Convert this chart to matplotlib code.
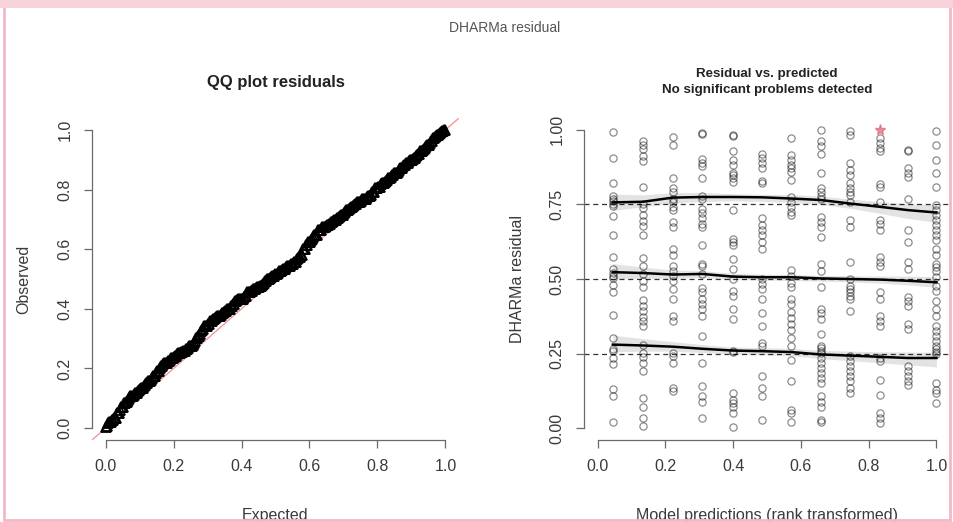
import numpy as np
import matplotlib
matplotlib.use("Agg")
import matplotlib.pyplot as plt
from matplotlib.patches import Rectangle

plt.rcParams['font.family'] = ['Liberation Sans', 'DejaVu Sans']

# Scaled residuals grouped by rank-transformed model prediction
pred_rank = [0.045, 0.134, 0.222, 0.309, 0.399, 0.485, 0.571, 0.658, 0.746, 0.834, 0.916, 1.0]

res_g01 = [0.993, 0.905, 0.823, 0.778, 0.770, 0.761, 0.753, 0.745, 0.712, 0.647, 0.574, 0.535,
           0.520, 0.511, 0.502, 0.480, 0.455, 0.378, 0.303, 0.266, 0.258, 0.236, 0.214, 0.131,
           0.108, 0.021]
res_g02 = [0.963, 0.950, 0.935, 0.913, 0.896, 0.808, 0.752, 0.739, 0.716, 0.694, 0.677, 0.649,
           0.571, 0.543, 0.517, 0.492, 0.472, 0.430, 0.408, 0.391, 0.371, 0.358, 0.341, 0.279,
           0.253, 0.240, 0.217, 0.192, 0.100, 0.072, 0.033, 0.008]
res_g03 = [0.975, 0.950, 0.840, 0.804, 0.793, 0.770, 0.757, 0.742, 0.731, 0.691, 0.675, 0.601,
           0.581, 0.545, 0.528, 0.511, 0.494, 0.465, 0.432, 0.376, 0.359, 0.252, 0.241, 0.218,
           0.134, 0.126]
res_g04 = [0.990, 0.985, 0.902, 0.890, 0.878, 0.840, 0.780, 0.770, 0.736, 0.720, 0.703, 0.686,
           0.675, 0.613, 0.551, 0.545, 0.517, 0.470, 0.455, 0.432, 0.416, 0.400, 0.376, 0.310,
           0.218, 0.140, 0.106, 0.089, 0.033]
res_g05 = [0.982, 0.978, 0.930, 0.900, 0.883, 0.855, 0.849, 0.840, 0.826, 0.730, 0.635, 0.624,
           0.613, 0.568, 0.535, 0.500, 0.460, 0.444, 0.400, 0.365, 0.260, 0.255, 0.117, 0.095,
           0.083, 0.072, 0.050, 0.005]
res_g06 = [0.920, 0.905, 0.889, 0.872, 0.829, 0.821, 0.703, 0.680, 0.663, 0.646, 0.624, 0.601,
           0.500, 0.483, 0.466, 0.432, 0.387, 0.342, 0.286, 0.275, 0.173, 0.134, 0.108, 0.027]
res_g07 = [0.973, 0.917, 0.900, 0.883, 0.872, 0.860, 0.832, 0.776, 0.759, 0.742, 0.725, 0.714,
           0.530, 0.511, 0.485, 0.472, 0.432, 0.416, 0.390, 0.370, 0.350, 0.330, 0.303, 0.275,
           0.227, 0.157, 0.061, 0.050, 0.021]
res_g08 = [1.000, 0.962, 0.945, 0.919, 0.855, 0.804, 0.793, 0.780, 0.770, 0.708, 0.691, 0.675,
           0.640, 0.550, 0.528, 0.472, 0.400, 0.387, 0.365, 0.314, 0.275, 0.270, 0.258, 0.252,
           0.235, 0.218, 0.200, 0.185, 0.168, 0.151, 0.106, 0.089, 0.072, 0.027, 0.021]
res_g09 = [0.998, 0.982, 0.888, 0.866, 0.849, 0.821, 0.804, 0.793, 0.782, 0.759, 0.697, 0.675,
           0.556, 0.500, 0.477, 0.466, 0.455, 0.444, 0.432, 0.393, 0.241, 0.224, 0.207, 0.190,
           0.173, 0.157, 0.134, 0.117]
res_g10 = [0.973, 0.956, 0.940, 0.930, 0.820, 0.810, 0.759, 0.697, 0.686, 0.663, 0.573, 0.556,
           0.545, 0.455, 0.432, 0.376, 0.359, 0.342, 0.235, 0.224, 0.162, 0.111, 0.050, 0.033, 0.016]
res_g11 = [0.934, 0.930, 0.872, 0.855, 0.843, 0.770, 0.663, 0.624, 0.556, 0.534, 0.438, 0.427,
           0.410, 0.348, 0.331, 0.207, 0.190, 0.173, 0.157, 0.145]
res_g12 = [0.995, 0.950, 0.900, 0.855, 0.810, 0.748, 0.731, 0.714, 0.697, 0.680, 0.663, 0.646,
           0.630, 0.601, 0.579, 0.551, 0.540, 0.528, 0.506, 0.477, 0.460, 0.427, 0.399, 0.376,
           0.342, 0.325, 0.308, 0.292, 0.275, 0.264, 0.255, 0.247, 0.151, 0.128, 0.117, 0.083]

# Simulation outlier
outlier_pred = [0.834]
outlier_res = [1.0]

# Quantile regression fits (0.25 / 0.5 / 0.75) with confidence bands
q25_fit = [0.280, 0.277, 0.273, 0.266, 0.260, 0.258, 0.255, 0.247, 0.243, 0.239, 0.235, 0.235]
q25_lo = [0.255, 0.258, 0.258, 0.253, 0.248, 0.246, 0.243, 0.233, 0.226, 0.219, 0.212, 0.205]
q25_hi = [0.312, 0.300, 0.290, 0.280, 0.272, 0.270, 0.267, 0.261, 0.258, 0.256, 0.255, 0.255]
q50_fit = [0.523, 0.520, 0.515, 0.517, 0.508, 0.506, 0.506, 0.502, 0.500, 0.498, 0.494, 0.489]
q50_lo = [0.500, 0.503, 0.502, 0.505, 0.498, 0.497, 0.495, 0.493, 0.490, 0.486, 0.480, 0.472]
q50_hi = [0.552, 0.540, 0.530, 0.528, 0.519, 0.516, 0.515, 0.512, 0.511, 0.510, 0.510, 0.508]
q75_fit = [0.757, 0.759, 0.773, 0.775, 0.775, 0.774, 0.770, 0.765, 0.753, 0.742, 0.731, 0.723]
q75_lo = [0.730, 0.742, 0.755, 0.760, 0.762, 0.760, 0.757, 0.750, 0.737, 0.720, 0.703, 0.690]
q75_hi = [0.785, 0.782, 0.790, 0.790, 0.786, 0.784, 0.783, 0.778, 0.768, 0.760, 0.752, 0.750]
ref_quantiles = [0.25, 0.5, 0.75]

unit_ticks = [0.0, 0.2, 0.4, 0.6, 0.8, 1.0]
unit_ticklabels = ["0.0", "0.2", "0.4", "0.6", "0.8", "1.0"]
res_ticks = [0.0, 0.25, 0.5, 0.75, 1.0]
res_ticklabels = ["0.00", "0.25", "0.50", "0.75", "1.00"]

groups = [res_g01, res_g02, res_g03, res_g04, res_g05, res_g06,
          res_g07, res_g08, res_g09, res_g10, res_g11, res_g12]
pred_all = np.concatenate([np.full(len(g), p) for p, g in zip(pred_rank, groups)])
res_all = np.concatenate([np.asarray(g, float) for g in groups])

AXC = "#6a6a6a"
TXT = "#3a3a3a"
FS = 11.5

W, H = 954, 522
fig = plt.figure(figsize=(W / 100, H / 100), dpi=100)
fig.patch.set_facecolor("white")


def box(x0, y0, x1, y1):
    return [x0 / W, 1 - y1 / H, (x1 - x0) / W, (y1 - y0) / H]


def r_style(ax, xt, xl, yt, yl):
    ax.set_xlim(-0.04, 1.04)
    ax.set_ylim(-0.04, 1.04)
    for s in ("top", "right"):
        ax.spines[s].set_visible(False)
    for s in ("left", "bottom"):
        ax.spines[s].set_bounds(0, 1)
        ax.spines[s].set_color(AXC)
        ax.spines[s].set_linewidth(0.9)
    ax.set_xticks(xt)
    ax.set_xticklabels(xl)
    ax.set_yticks(yt)
    ax.set_yticklabels(yl, rotation=90, va="center")
    ax.tick_params(direction="out", length=6, width=0.9, color=AXC,
                   labelsize=FS, labelcolor=TXT, pad=8)
    ax.set_facecolor("none")


# --- QQ plot of the scaled residuals against the uniform distribution ---
ax1 = fig.add_axes(box(92, 118, 459, 440))
observed = np.sort(np.concatenate([res_all, outlier_res]))
n = observed.size
expected = (np.arange(1, n + 1) - 0.5) / n
ax1.axline((0, 0), slope=1, color="#f09a9a", lw=1.0, zorder=1)
ax1.plot(expected, observed, linestyle="none", marker="^", markersize=7,
         markerfacecolor="none", markeredgecolor="black", markeredgewidth=1.3, zorder=2)
r_style(ax1, unit_ticks, unit_ticklabels, unit_ticks, unit_ticklabels)
ax1.set_title("QQ plot residuals", fontsize=12, fontweight="bold", color="#222222", pad=22)
ax1.set_xlabel("Expected", fontsize=FS, color=TXT, labelpad=24)
ax1.set_ylabel("Observed", fontsize=FS, color=TXT, labelpad=19)

# --- Residuals vs. rank-transformed predictions ---
ax2 = fig.add_axes(box(584, 118, 950, 440))
for q in ref_quantiles:
    ax2.axhline(q, color="#333333", lw=0.9, ls=(0, (4, 3)), zorder=1)
ax2.plot(pred_all, res_all, linestyle="none", marker="o", markersize=5.2,
         markerfacecolor="none", markeredgecolor=(0, 0, 0, 0.45), markeredgewidth=0.9, zorder=2)
ax2.plot(outlier_pred, outlier_res, linestyle="none", marker="*", markersize=8,
         color="#e0607a", alpha=0.7, zorder=3)
for lo, hi, fit in ((q25_lo, q25_hi, q25_fit), (q50_lo, q50_hi, q50_fit), (q75_lo, q75_hi, q75_fit)):
    ax2.fill_between(pred_rank, lo, hi, color=(0, 0, 0, 0.11), lw=0, zorder=3)
    ax2.plot(pred_rank, fit, color="black", lw=1.8, zorder=4)
r_style(ax2, unit_ticks, unit_ticklabels, res_ticks, res_ticklabels)
ax2.set_title("Residual vs. predicted\nNo significant problems detected", fontsize=9.6,
              fontweight="bold", color="#222222", pad=18, linespacing=1.4)
ax2.set_xlabel("Model predictions (rank transformed)", fontsize=FS, color=TXT, labelpad=24)
ax2.set_ylabel("DHARMa residual", fontsize=FS, color=TXT, labelpad=18)

fig.text(505 / W, 1 - 28 / H, "DHARMa residual", fontsize=10, color="#555555",
         ha="center", va="center")

# thin pink page frame
fig.add_artist(Rectangle((0.004, 0.004), 0.992, 0.985, transform=fig.transFigure,
                         fill=False, edgecolor="#f3b9c8", lw=2.0))
fig.add_artist(Rectangle((0, 0.985), 1, 0.015, transform=fig.transFigure,
                         facecolor="#f7d3dc", edgecolor="none"))

fig.savefig("out.png", dpi=100)
